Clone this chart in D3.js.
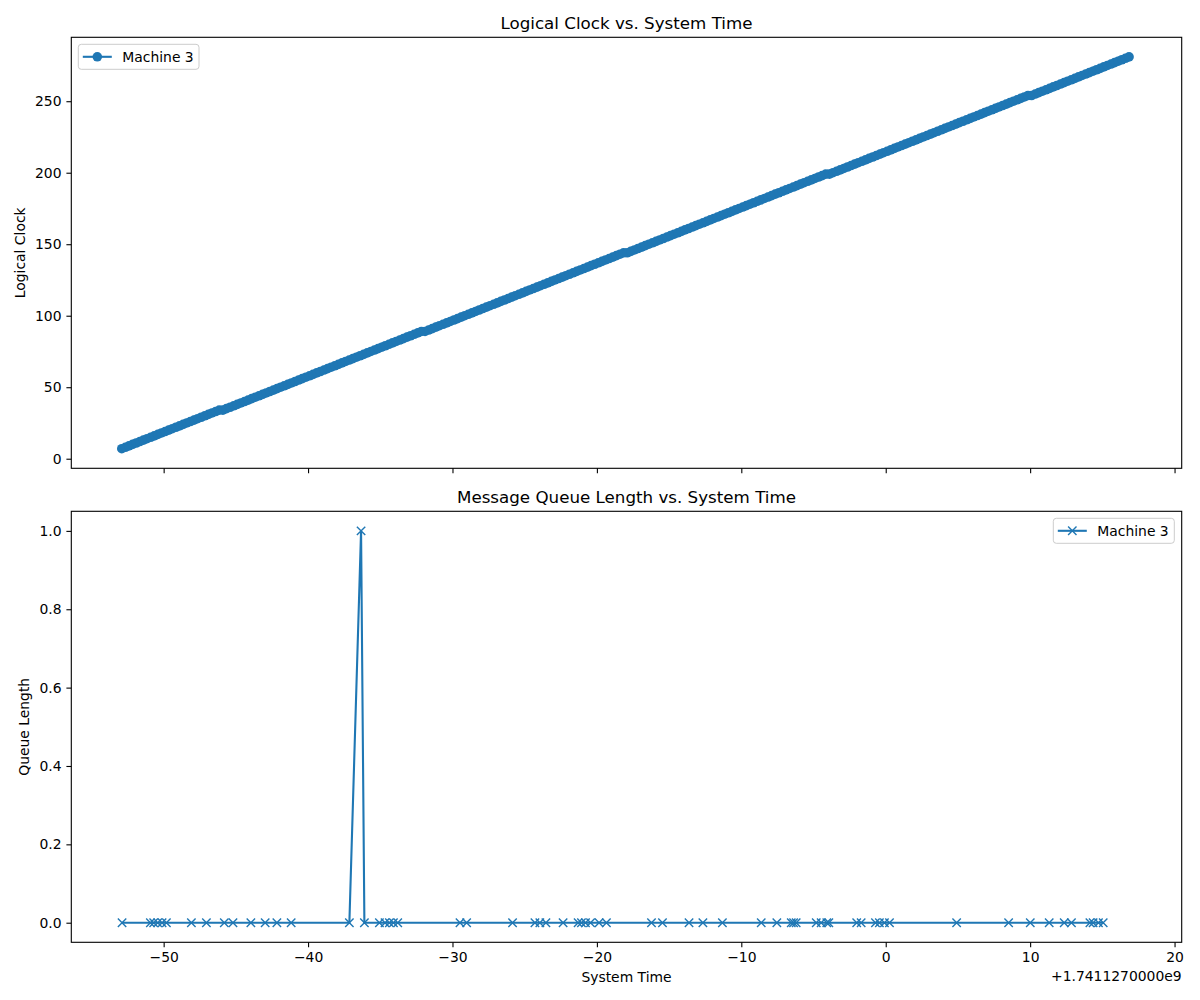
<!DOCTYPE html>
<html>
<head>
<meta charset="utf-8">
<script src="https://cdn.jsdelivr.net/npm/d3@7"></script>
<style>
  body { margin: 0; background: #fff; }
  text { font-family: "DejaVu Sans", sans-serif; fill: #000; }
</style>
</head>
<body>
<svg id="chart" width="1200" height="1000"></svg>
<script>
// system time in seconds, relative to 1.741127e9
const clockTimes = [
  -52.9, -52.65, -52.4, -52.15, -51.9, -51.65, -51.4, -51.15, -50.9, -50.65, -50.4, -50.15,
  -49.9, -49.65, -49.4, -49.15, -48.9, -48.65, -48.4, -48.15, -47.9, -47.65, -47.4, -47.15,
  -46.9, -46.65, -46.4, -46.15, -45.9, -45.65, -45.4, -45.15, -44.9, -44.65, -44.4, -44.15,
  -43.9, -43.65, -43.4, -43.15, -42.9, -42.65, -42.4, -42.15, -41.9, -41.65, -41.4, -41.15,
  -40.9, -40.65, -40.4, -40.15, -39.9, -39.65, -39.4, -39.15, -38.9, -38.65, -38.4, -38.15,
  -37.9, -37.65, -37.4, -37.15, -36.9, -36.65, -36.4, -36.15, -35.9, -35.65, -35.4, -35.15,
  -34.9, -34.65, -34.4, -34.15, -33.9, -33.65, -33.4, -33.15, -32.9, -32.65, -32.4, -32.15,
  -31.9, -31.65, -31.4, -31.15, -30.9, -30.65, -30.4, -30.15, -29.9, -29.65, -29.4, -29.15,
  -28.9, -28.65, -28.4, -28.15, -27.9, -27.65, -27.4, -27.15, -26.9, -26.65, -26.4, -26.15,
  -25.9, -25.65, -25.4, -25.15, -24.9, -24.65, -24.4, -24.15, -23.9, -23.65, -23.4, -23.15,
  -22.9, -22.65, -22.4, -22.15, -21.9, -21.65, -21.4, -21.15, -20.9, -20.65, -20.4, -20.15,
  -19.9, -19.65, -19.4, -19.15, -18.9, -18.65, -18.4, -18.15, -17.9, -17.65, -17.4, -17.15,
  -16.9, -16.65, -16.4, -16.15, -15.9, -15.65, -15.4, -15.15, -14.9, -14.65, -14.4, -14.15,
  -13.9, -13.65, -13.4, -13.15, -12.9, -12.65, -12.4, -12.15, -11.9, -11.65, -11.4, -11.15,
  -10.9, -10.65, -10.4, -10.15, -9.9, -9.65, -9.4, -9.15, -8.9, -8.65, -8.4, -8.15,
  -7.9, -7.65, -7.4, -7.15, -6.9, -6.65, -6.4, -6.15, -5.9, -5.65, -5.4, -5.15,
  -4.9, -4.65, -4.4, -4.15, -3.9, -3.65, -3.4, -3.15, -2.9, -2.65, -2.4, -2.15,
  -1.9, -1.65, -1.4, -1.15, -0.9, -0.65, -0.4, -0.15, 0.1, 0.35, 0.6, 0.85,
  1.1, 1.35, 1.6, 1.85, 2.1, 2.35, 2.6, 2.85, 3.1, 3.35, 3.6, 3.85,
  4.1, 4.35, 4.6, 4.85, 5.1, 5.35, 5.6, 5.85, 6.1, 6.35, 6.6, 6.85,
  7.1, 7.35, 7.6, 7.85, 8.1, 8.35, 8.6, 8.85, 9.1, 9.35, 9.6, 9.85,
  10.1, 10.35, 10.6, 10.85, 11.1, 11.35, 11.6, 11.85, 12.1, 12.35, 12.6, 12.85,
  13.1, 13.35, 13.6, 13.85, 14.1, 14.35, 14.6, 14.85, 15.1, 15.35, 15.6, 15.85,
  16.1, 16.35, 16.6, 16.85
]
const clockValues = [
  7, 8, 9, 10, 11, 12, 13, 14, 15, 16, 17, 18, 19, 20, 21, 22, 23, 24, 25, 26,
  27, 28, 29, 30, 31, 32, 33, 34,
  34, 35, 36, 37, 38, 39, 40, 41, 42, 43, 44, 45, 46, 47, 48, 49, 50, 51, 52, 53,
  54, 55, 56, 57, 58, 59, 60, 61, 62, 63, 64, 65, 66, 67, 68, 69, 70, 71, 72, 73,
  74, 75, 76, 77, 78, 79, 80, 81, 82, 83, 84, 85, 86, 87, 88, 89,
  89, 90, 91, 92, 93, 94, 95, 96, 97, 98, 99, 100, 101, 102, 103, 104, 105, 106, 107, 108,
  109, 110, 111, 112, 113, 114, 115, 116, 117, 118, 119, 120, 121, 122, 123, 124, 125, 126, 127, 128,
  129, 130, 131, 132, 133, 134, 135, 136, 137, 138, 139, 140, 141, 142, 143, 144,
  144, 145, 146, 147, 148, 149, 150, 151, 152, 153, 154, 155, 156, 157, 158, 159, 160, 161, 162, 163,
  164, 165, 166, 167, 168, 169, 170, 171, 172, 173, 174, 175, 176, 177, 178, 179, 180, 181, 182, 183,
  184, 185, 186, 187, 188, 189, 190, 191, 192, 193, 194, 195, 196, 197, 198, 199,
  199, 200, 201, 202, 203, 204, 205, 206, 207, 208, 209, 210, 211, 212, 213, 214, 215, 216, 217, 218,
  219, 220, 221, 222, 223, 224, 225, 226, 227, 228, 229, 230, 231, 232, 233, 234, 235, 236, 237, 238,
  239, 240, 241, 242, 243, 244, 245, 246, 247, 248, 249, 250, 251, 252, 253, 254,
  254, 255, 256, 257, 258, 259, 260, 261, 262, 263, 264, 265, 266, 267, 268, 269, 270, 271, 272, 273,
  274, 275, 276, 277, 278, 279, 280, 281
]

const queueTimes = [
  -52.88, -50.92, -50.69, -50.41, -50.11, -49.81, -48.08, -47.04, -45.80, -45.20,
  -43.96, -42.97, -42.16, -41.17, -37.14, -36.33, -36.10, -35.06, -34.67, -34.37,
  -34.09, -33.79, -29.48, -29.02, -25.84, -24.29, -23.95, -23.53, -22.34, -21.30,
  -21.07, -20.79, -20.44, -19.85, -19.34, -16.22, -15.46, -13.62, -12.66, -11.31,
  -8.62, -7.54, -6.54, -6.38, -6.20, -4.81, -4.47, -4.08, -3.94, -2.01,
  -1.70, -0.71, -0.44, -0.09, 0.26, 4.91, 8.51, 10.01, 11.32, 12.36,
  12.86, 14.14, 14.36, 14.73, 15.06
]
const queueValues = [
  0, 0, 0, 0, 0, 0, 0, 0, 0, 0,
  0, 0, 0, 0, 0, 1, 0, 0, 0, 0,
  0, 0, 0, 0, 0, 0, 0, 0, 0, 0,
  0, 0, 0, 0, 0, 0, 0, 0, 0, 0,
  0, 0, 0, 0, 0, 0, 0, 0, 0, 0,
  0, 0, 0, 0, 0, 0, 0, 0, 0, 0,
  0, 0, 0, 0, 0
]

const xTicks = [-50, -40, -30, -20, -10, 0, 10, 20]
const clockTicks = [0, 50, 100, 150, 200, 250]
const queueTicks = [0, 0.2, 0.4, 0.6, 0.8, 1.0]
const seriesName = 'Machine 3'
const offsetLabel = '+1.7411270000e9'

const blue = '#1f77b4'
const left = 71.3
const right = 1181.7
const panels = [
  { top: 37.3, bottom: 468.3 },
  { top: 511.3, bottom: 942.3 }
]

const svg = d3.select('#chart')

// pad the data range by 5% like matplotlib does
const padded = ext => {
  const span = ext[1] - ext[0]
  return [ext[0] - span * 0.05, ext[1] + span * 0.05]
}

const x = d3.scaleLinear()
  .domain(padded([d3.min(clockTimes.concat(queueTimes)), 17.0]))
  .range([left, right])

const yClock = d3.scaleLinear()
  .domain(padded(d3.extent(clockValues)))
  .range([panels[0].bottom, panels[0].top])

const yQueue = d3.scaleLinear()
  .domain(padded(d3.extent(queueValues)))
  .range([panels[1].bottom, panels[1].top])

const styleAxis = (g) => {
  g.select('.domain').remove()
  g.selectAll('.tick line').attr('stroke', '#000').attr('stroke-width', 1.1)
  g.selectAll('.tick text')
    .attr('font-size', 13.9)
    .attr('font-family', '"DejaVu Sans", sans-serif')
    .attr('fill', '#000')
}

const drawFrame = (p) => {
  svg.append('rect')
    .attr('x', left)
    .attr('y', p.top)
    .attr('width', right - left)
    .attr('height', p.bottom - p.top)
    .attr('fill', 'none')
    .attr('stroke', '#000')
    .attr('stroke-width', 1.1)
}

const drawTitle = (p, text) => {
  svg.append('text')
    .text(text)
    .attr('x', (left + right) / 2)
    .attr('y', p.top - 8.3)
    .attr('text-anchor', 'middle')
    .attr('font-size', 16.7)
}

const drawYLabel = (p, text, xPos) => {
  svg.append('text')
    .text(text)
    .attr('transform', 'translate(' + xPos + ',' + ((p.top + p.bottom) / 2) + ') rotate(-90)')
    .attr('text-anchor', 'middle')
    .attr('font-size', 13.9)
}

// ---- top panel: logical clock
const topPanel = panels[0]

svg.append('g')
  .attr('transform', 'translate(0,' + topPanel.bottom + ')')
  .call(d3.axisBottom(x).tickValues(xTicks).tickSize(4.9).tickFormat(''))
  .call(styleAxis)

svg.append('g')
  .attr('transform', 'translate(' + left + ',0)')
  .call(d3.axisLeft(yClock).tickValues(clockTicks).tickSize(4.9).tickPadding(4.9).tickFormat(d3.format('d')))
  .call(styleAxis)

const clockData = clockTimes.map((t, i) => ({ t, v: clockValues[i] }))

svg.append('path')
  .datum(clockData)
  .attr('fill', 'none')
  .attr('stroke', blue)
  .attr('stroke-width', 2.1)
  .attr('d', d3.line().x(d => x(d.t)).y(d => yClock(d.v)))

svg.append('g')
  .selectAll('circle')
  .data(clockData)
  .enter().append('circle')
  .attr('cx', d => x(d.t))
  .attr('cy', d => yClock(d.v))
  .attr('r', 4.8)
  .attr('fill', blue)

drawFrame(topPanel)
drawTitle(topPanel, 'Logical Clock vs. System Time')
drawYLabel(topPanel, 'Logical Clock', 25)

// legend, upper left
const legTop = svg.append('g').attr('transform', 'translate(78.3,44.3)')
legTop.append('rect')
  .attr('width', 120.7).attr('height', 25).attr('rx', 3)
  .attr('fill', '#fff').attr('fill-opacity', 0.8)
  .attr('stroke', '#cccccc').attr('stroke-width', 1)
legTop.append('line')
  .attr('x1', 4.5).attr('x2', 33.5).attr('y1', 12.5).attr('y2', 12.5)
  .attr('stroke', blue).attr('stroke-width', 2.1)
legTop.append('circle')
  .attr('cx', 19).attr('cy', 12.5).attr('r', 4.8).attr('fill', blue)
legTop.append('text')
  .text(seriesName)
  .attr('x', 44).attr('y', 17.4)
  .attr('font-size', 13.9)

// ---- bottom panel: queue length
const botPanel = panels[1]

svg.append('g')
  .attr('transform', 'translate(0,' + botPanel.bottom + ')')
  .call(d3.axisBottom(x).tickValues(xTicks).tickSize(4.9).tickPadding(4.9).tickFormat(d3.format('d')))
  .call(styleAxis)
  .call(g => g.selectAll('.tick text').text(d => d < 0 ? '\u2212' + Math.abs(d) : d))

svg.append('g')
  .attr('transform', 'translate(' + left + ',0)')
  .call(d3.axisLeft(yQueue).tickValues(queueTicks).tickSize(4.9).tickPadding(4.9).tickFormat(d3.format('.1f')))
  .call(styleAxis)

const queueData = queueTimes.map((t, i) => ({ t, v: queueValues[i] }))

svg.append('path')
  .datum(queueData)
  .attr('fill', 'none')
  .attr('stroke', blue)
  .attr('stroke-width', 2.1)
  .attr('d', d3.line().x(d => x(d.t)).y(d => yQueue(d.v)))

const cross = 'M-4.2,-4.2L4.2,4.2M-4.2,4.2L4.2,-4.2'

svg.append('g')
  .selectAll('path')
  .data(queueData)
  .enter().append('path')
  .attr('transform', d => 'translate(' + x(d.t) + ',' + yQueue(d.v) + ')')
  .attr('d', cross)
  .attr('fill', 'none')
  .attr('stroke', blue)
  .attr('stroke-width', 1.4)

drawFrame(botPanel)
drawTitle(botPanel, 'Message Queue Length vs. System Time')
drawYLabel(botPanel, 'Queue Length', 29)

svg.append('text')
  .text('System Time')
  .attr('x', (left + right) / 2)
  .attr('y', 982)
  .attr('text-anchor', 'middle')
  .attr('font-size', 13.9)

svg.append('text')
  .text(offsetLabel)
  .attr('x', right)
  .attr('y', 981)
  .attr('text-anchor', 'end')
  .attr('font-size', 13.9)

// legend, upper right
const legBot = svg.append('g').attr('transform', 'translate(1053.3,518.3)')
legBot.append('rect')
  .attr('width', 121).attr('height', 25).attr('rx', 3)
  .attr('fill', '#fff').attr('fill-opacity', 0.8)
  .attr('stroke', '#cccccc').attr('stroke-width', 1)
legBot.append('line')
  .attr('x1', 4.5).attr('x2', 33.5).attr('y1', 12.5).attr('y2', 12.5)
  .attr('stroke', blue).attr('stroke-width', 2.1)
legBot.append('path')
  .attr('transform', 'translate(19,12.5)')
  .attr('d', cross)
  .attr('fill', 'none')
  .attr('stroke', blue)
  .attr('stroke-width', 1.4)
legBot.append('text')
  .text(seriesName)
  .attr('x', 44).attr('y', 17.4)
  .attr('font-size', 13.9)
</script>
</body>
</html>
